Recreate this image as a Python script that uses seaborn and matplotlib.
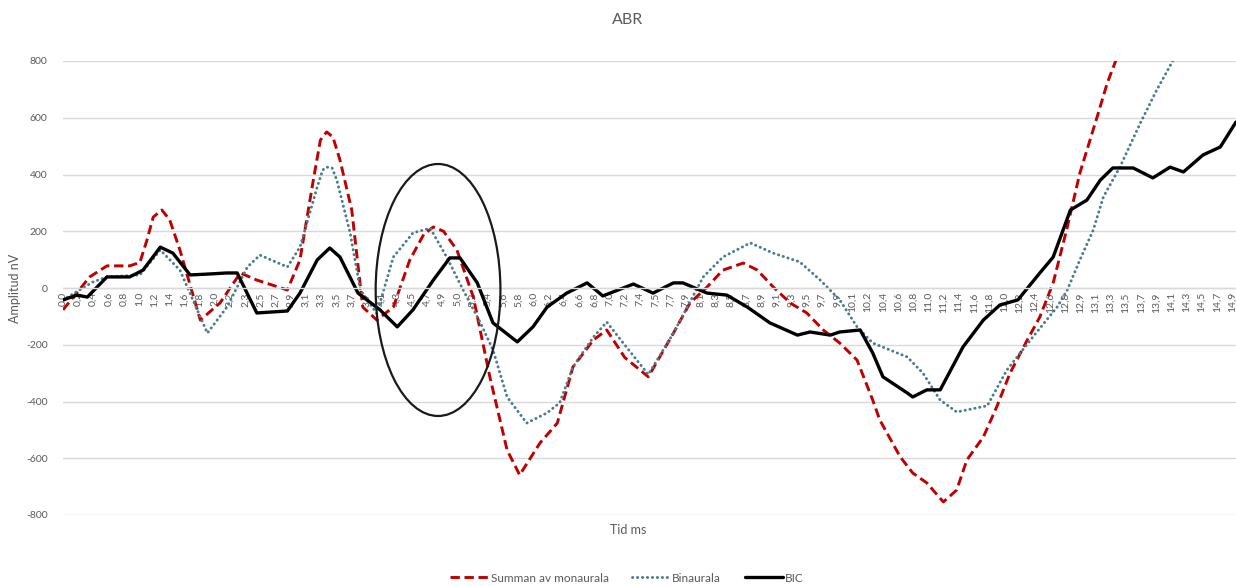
import matplotlib
matplotlib.use("Agg")
import matplotlib.pyplot as plt
from matplotlib.patches import Ellipse
from matplotlib.lines import Line2D
import seaborn as sns
import pandas as pd

# ---------------- data ----------------
t_sum = [0.00, 0.34, 0.56, 0.85, 0.98, 1.07, 1.15, 1.26, 1.36, 1.49, 1.75, 2.00, 2.26, 2.47,
         2.86, 3.02, 3.19, 3.28, 3.36, 3.44, 3.53, 3.68, 3.82, 4.00, 4.21, 4.42, 4.60, 4.72,
         4.85, 5.02, 5.23, 5.44, 5.66, 5.82, 6.08,
         6.30, 6.50, 6.76, 6.93, 7.16, 7.46, 7.78, 7.99, 8.21, 8.41, 8.67, 8.85, 9.05, 9.27,
         9.48, 9.69, 9.90, 10.12, 10.32, 10.41, 10.67, 10.83, 11.01, 11.22, 11.39, 11.52,
         11.73, 11.90, 12.07, 12.29, 12.45, 12.62, 12.80, 12.96, 13.18, 13.31, 13.43, 13.60, 13.85]
v_sum = [-77, 39, 78, 78, 90, 169, 250, 275, 240, 134, -113, -53, 53, 28,
         -7, 99, 380, 521, 550, 532, 451, 275, -67, -113, -67, 99, 190, 215,
         200, 134, -32, -313, -571, -659, -546,
         -476, -278, -183, -148, -245, -313, -159, -53, 4, 63, 88, 63, 4, -53,
         -88, -148, -194, -254, -395, -465, -595, -652, -687, -754, -712, -606,
         -525, -419, -300, -183, -102, 18, 215, 405, 603, 723, 810, 900, 1000]

t_bin = [0.00, 0.38, 0.56, 0.98, 1.24, 1.49, 1.84, 2.09, 2.35, 2.51, 2.86, 3.02, 3.24, 3.31,
         3.36, 3.43, 3.49, 3.66, 3.79, 4.00, 4.21, 4.46, 4.68, 4.89, 5.10, 5.32, 5.48, 5.66,
         5.91, 6.17, 6.33, 6.50, 6.76, 6.93, 7.14, 7.46, 7.78, 8.16, 8.41, 8.76, 9.05, 9.39,
         9.65, 9.90, 10.12, 10.32, 10.76, 10.96, 11.18, 11.39, 11.78, 12.03, 12.36, 12.67,
         12.80, 12.96, 13.13, 13.26, 13.47, 13.73, 13.94, 14.15, 14.36]
v_bin = [-42, 21, 39, 46, 134, 63, -159, -67, 74, 116, 74, 144, 356, 416,
         426, 423, 380, 194, -7, -90, 109, 194, 211, 109, -7, -123, -218, -384,
         -476, -440, -405, -278, -173, -120, -194, -305, -159, 39, 109, 159, 123, 92,
         28, -42, -137, -194, -243, -300, -395, -437, -415, -289, -173, -67,
         -7, 99, 204, 321, 426, 581, 698, 803, 900]

t_bic = [0.00, 0.18, 0.31, 0.56, 0.85, 1.02, 1.24, 1.40, 1.62, 1.84, 2.09, 2.22, 2.47, 2.86,
         3.02, 3.24, 3.40, 3.53, 3.76, 4.04, 4.26, 4.46, 4.72, 4.93, 5.06, 5.28, 5.48, 5.79,
         5.99, 6.17, 6.42, 6.68, 6.88, 7.27, 7.52, 7.78, 7.90, 8.21, 8.46, 8.72, 9.01, 9.36,
         9.52, 9.78, 9.90, 10.16, 10.32, 10.45, 10.76, 10.83, 11.01, 11.18, 11.47, 11.73,
         11.94, 12.17, 12.45, 12.62, 12.84, 13.05, 13.22, 13.38, 13.64, 13.89, 14.11, 14.28,
         14.53, 14.75, 14.95]
v_bic = [-42, -25, -32, 39, 39, 63, 144, 123, 46, 49, 53, 53, -88, -81,
         -18, 99, 141, 109, -18, -77, -137, -77, 28, 106, 106, 18, -123, -190,
         -137, -67, -18, 18, -28, 14, -18, 18, 18, -18, -25, -67, -123, -166,
         -155, -166, -155, -148, -229, -313, -370, -384, -359, -359, -208, -113,
         -60, -42, 53, 109, 275, 310, 380, 423, 423, 388, 426, 409,
         469, 497, 585]

x_labels = ["0,0", "0,2", "0,4", "0,6", "0,8", "1,0", "1,2", "1,4", "1,6", "1,8", "2,0", "2,2",
            "2,3", "2,5", "2,7", "2,9", "3,1", "3,3", "3,5", "3,7", "3,9", "4,1", "4,3", "4,5",
            "4,7", "4,9", "5,0", "5,2", "5,4", "5,6", "5,8", "6,0", "6,2", "6,4", "6,6", "6,8",
            "7,0", "7,2", "7,4", "7,5", "7,7", "7,9", "8,1", "8,3", "8,5", "8,7", "8,9", "9,1",
            "9,3", "9,5", "9,7", "9,9", "10,1", "10,2", "10,4", "10,6", "10,8", "11,0", "11,2",
            "11,4", "11,6", "11,8", "12,0", "12,2", "12,4", "12,6", "12,8", "12,9", "13,1",
            "13,3", "13,5", "13,7", "13,9", "14,1", "14,3", "14,5", "14,7", "14,9"]
y_ticks = [-800, -600, -400, -200, 0, 200, 400, 600, 800]

# ellipse annotation (centre time, centre amplitude, width ms, height nV)
ell_center = (4.78, -7)
ell_size = (1.59, 888)

series_names = ["Summan av monaurala", "Binaurala", "BIC"]

# ---------------- style ----------------
sns.set_theme(style="white")
plt.rcParams["font.family"] = ["Lato", "DejaVu Sans"]
gray = "#595959"
c_red = "#C00000"
c_blue = "#4A7C8C"

fig = plt.figure(figsize=(12.36, 5.86), dpi=100)
ax = fig.add_axes([63 / 1236, 1 - 515 / 586, 1 - 63 / 1236, (515 - 61) / 586])

df_sum = pd.DataFrame({"t": t_sum, "v": v_sum})
df_bin = pd.DataFrame({"t": t_bin, "v": v_bin})
df_bic = pd.DataFrame({"t": t_bic, "v": v_bic})

lw = 2.1
sns.lineplot(data=df_sum, x="t", y="v", ax=ax, color=c_red, linewidth=lw,
             linestyle=(0, (3.2, 1.6)), sort=False, estimator=None)
sns.lineplot(data=df_bin, x="t", y="v", ax=ax, color=c_blue, linewidth=lw,
             linestyle=(0, (0.1, 1.6)), sort=False, estimator=None)
sns.lineplot(data=df_bic, x="t", y="v", ax=ax, color="black", linewidth=lw + 0.3,
             sort=False, estimator=None)
ax.lines[1].set_dash_capstyle("round")
for ln in ax.lines:
    ln.set_solid_joinstyle("round")
    ln.set_dash_joinstyle("round")

ax.add_patch(Ellipse(ell_center, ell_size[0], ell_size[1], fill=False,
                     edgecolor="#1a1a1a", linewidth=1.6, zorder=5))

for s in ["top", "right", "left"]:
    ax.spines[s].set_visible(False)
ax.spines["bottom"].set_position(("data", 0))
ax.spines["bottom"].set_color("#d9d9d9")
ax.spines["bottom"].set_linewidth(1)

ax.set_xlim(0, 14.95)
ax.set_ylim(-800, 800)
step = 14.9 / (len(x_labels) - 1)
ax.set_xticks([i * step for i in range(len(x_labels))])
ax.set_xticklabels(x_labels, rotation=90, fontsize=7.5, color=gray)
ax.set_yticks(y_ticks)
ax.set_yticklabels([str(v) for v in y_ticks], fontsize=7.5, color=gray)
ax.tick_params(axis="both", length=0)
ax.tick_params(axis="y", pad=11)
ax.tick_params(axis="x", pad=3)
ax.grid(axis="y", color="#d9d9d9", linewidth=1)
ax.set_axisbelow(True)
ax.set_xlabel("")
ax.set_ylabel("")

fig.text(628 / 1236, 1 - 20 / 586, "ABR", ha="center", va="center", fontsize=11.5, color=gray)
fig.text(15 / 1236, 1 - 288 / 586, "Amplitud nV", rotation=90, ha="center", va="center",
         fontsize=9, color=gray)
fig.text(628 / 1236, 1 - 530 / 586, "Tid ms", ha="center", va="center", fontsize=9, color=gray)

handles = [
    Line2D([], [], color=c_red, linewidth=lw, linestyle=(0, (3.2, 1.6))),
    Line2D([], [], color=c_blue, linewidth=lw, linestyle=(0, (0.1, 1.6)), dash_capstyle="round"),
    Line2D([], [], color="black", linewidth=lw + 0.3),
]
leg = fig.legend(handles, series_names, loc="center", bbox_to_anchor=(627 / 1236, 1 - 578 / 586),
                 ncol=3, frameon=False, fontsize=8.5, handlelength=3.2, handletextpad=0.2,
                 columnspacing=2.0, labelcolor=gray)

fig.savefig("out.png", dpi=100)
